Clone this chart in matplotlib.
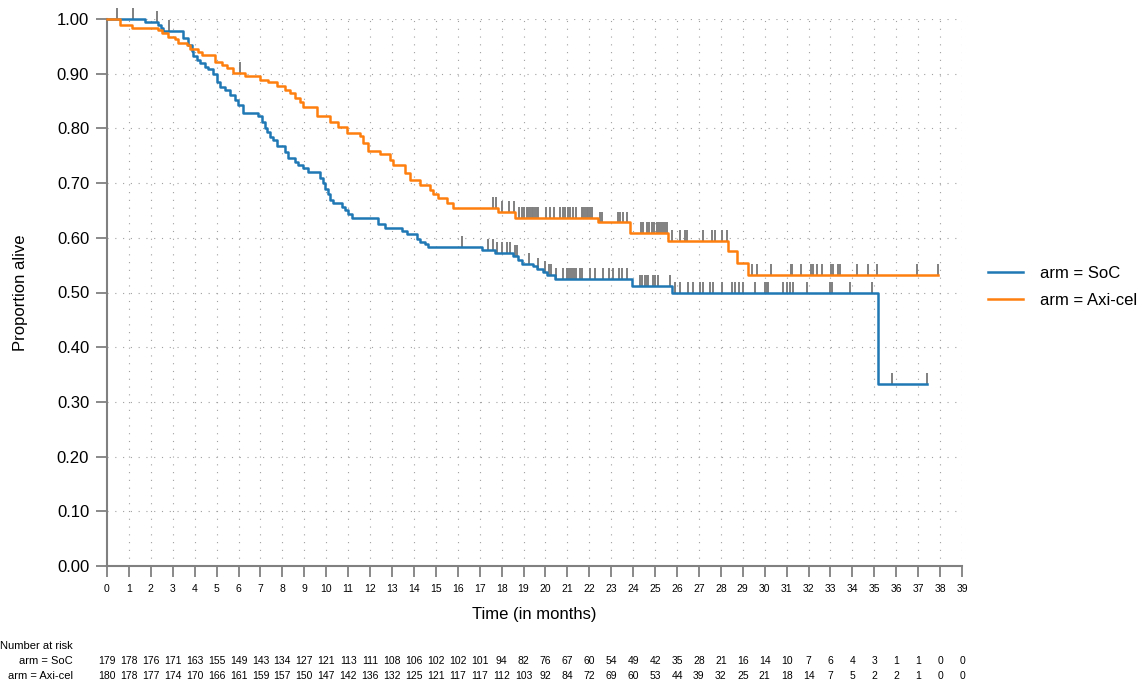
import numpy as np
import matplotlib
matplotlib.use("Agg")
import matplotlib.pyplot as plt

plt.rcParams['font.family'] = ['Liberation Sans', 'DejaVu Sans']

# Kaplan-Meier step points (time in months, survival after step)
soc_times = [0, 1.73, 2.34, 2.45, 2.55, 3.48, 3.71, 3.86, 3.94, 4.09, 4.24, 4.47, 4.62,
             4.85, 5.00, 5.16, 5.38, 5.61, 5.84, 5.99, 6.22, 6.90, 7.06, 7.21, 7.29, 7.44,
             7.59, 7.74, 8.12, 8.27, 8.58, 8.73, 8.96, 9.18, 9.72, 9.87, 9.95, 10.10, 10.17,
             10.32, 10.71, 10.86, 11.01, 11.16, 12.38, 12.68, 13.44, 13.67, 14.13, 14.28,
             14.51, 14.66, 17.09, 17.70, 18.54, 18.76, 18.92, 19.45, 19.60, 19.91, 20.06,
             20.44, 23.93, 25.76, 35.19]
soc_surv = [1.0, 0.994, 0.989, 0.983, 0.978, 0.966, 0.952, 0.941, 0.932, 0.925, 0.920, 0.913,
            0.908, 0.900, 0.885, 0.876, 0.870, 0.861, 0.852, 0.843, 0.829, 0.823, 0.812, 0.800,
            0.794, 0.785, 0.778, 0.767, 0.757, 0.745, 0.738, 0.733, 0.727, 0.721, 0.710, 0.700,
            0.690, 0.680, 0.670, 0.664, 0.657, 0.651, 0.643, 0.636, 0.626, 0.618, 0.613, 0.607,
            0.598, 0.592, 0.588, 0.583, 0.578, 0.572, 0.566, 0.559, 0.552, 0.548, 0.543, 0.538,
            0.532, 0.524, 0.512, 0.500, 0.333]
soc_end = 37.42

axi_times = [0, 0.59, 1.13, 2.34, 2.49, 2.80, 3.10, 3.25, 3.64, 3.79, 4.17, 4.32, 4.93, 5.23,
             5.46, 5.76, 6.30, 6.98, 7.36, 7.74, 8.12, 8.35, 8.58, 8.80, 8.96, 9.60, 10.17,
             10.55, 10.93, 11.54, 11.69, 11.92, 12.45, 12.91, 13.06, 13.59, 13.82, 14.28,
             14.74, 14.89, 15.11, 15.50, 15.80, 17.85, 18.61, 22.41, 23.86, 25.61, 28.34,
             28.73, 29.23]
axi_surv = [1.0, 0.989, 0.984, 0.980, 0.975, 0.968, 0.963, 0.957, 0.952, 0.945, 0.940, 0.934,
            0.922, 0.916, 0.910, 0.902, 0.895, 0.888, 0.884, 0.878, 0.871, 0.865, 0.855, 0.849,
            0.840, 0.822, 0.812, 0.803, 0.792, 0.786, 0.773, 0.759, 0.753, 0.742, 0.733, 0.718,
            0.705, 0.696, 0.687, 0.680, 0.672, 0.663, 0.654, 0.648, 0.637, 0.628, 0.608, 0.595,
            0.575, 0.554, 0.532]
axi_end = 37.90

# censoring times
soc_censor = [0.44, 1.17, 2.30, 2.83, 16.21, 17.40, 17.60, 17.78, 18.01, 18.24, 18.39, 18.61,
              18.72, 19.27, 19.68, 19.98, 20.16, 20.24, 20.48, 20.82, 20.97, 21.05, 21.12,
              21.20, 21.30, 21.40, 21.58, 21.66, 22.03, 22.26, 22.61, 22.92, 23.10, 23.37,
              23.48, 23.71, 24.32, 24.39, 24.54, 24.62, 24.69, 24.92, 25.00, 25.15, 25.68,
              25.91, 26.14, 26.52, 26.75, 27.05, 27.20, 27.51, 27.66, 28.04, 28.50, 28.65,
              28.85, 29.03, 29.56, 30.02, 30.10, 30.17, 30.85, 31.01, 31.16, 31.31, 31.92,
              32.98, 33.06, 33.90, 34.89, 35.80, 37.42]
axi_censor = [6.07, 17.62, 17.73, 18.01, 18.35, 18.57, 18.81, 18.92, 19.02, 19.15, 19.22,
              19.30, 19.38, 19.45, 19.53, 19.60, 19.65, 20.03, 20.21, 20.39, 20.67, 20.79,
              20.89, 21.05, 21.12, 21.27, 21.38, 21.66, 21.73, 21.81, 21.88, 21.96, 22.03,
              22.11, 22.49, 22.57, 23.30, 23.40, 23.53, 23.71, 24.35, 24.47, 24.62, 24.74,
              24.85, 24.95, 25.11, 25.20, 25.26, 25.35, 25.46, 25.53, 25.76, 26.14, 26.37,
              26.45, 27.20, 27.59, 27.74, 28.04, 28.30, 29.41, 29.64, 30.28, 31.19, 31.24,
              31.66, 32.10, 32.19, 32.38, 32.60, 33.03, 33.11, 33.36, 33.44, 34.20, 34.70,
              35.11, 36.97, 37.90]

risk_times = list(range(40))
soc_risk = [179, 178, 176, 171, 163, 155, 149, 143, 134, 127, 121, 113, 111, 108, 106, 102,
            102, 101, 94, 82, 76, 67, 60, 54, 49, 42, 35, 28, 21, 16, 14, 10, 7, 6, 4, 3,
            1, 1, 0, 0]
axi_risk = [180, 178, 177, 174, 170, 166, 161, 159, 157, 150, 147, 142, 136, 132, 125, 121,
            117, 117, 112, 103, 92, 84, 72, 69, 60, 53, 44, 39, 32, 25, 21, 18, 14, 7, 5, 2,
            2, 1, 0, 0]

arms = ['arm = SoC', 'arm = Axi-cel']
colors = ['#1f77b4', '#ff7f0e']

W, H = 1144, 684
fig = plt.figure(figsize=(W / 100, H / 100), dpi=100)
ax = fig.add_axes([107 / W, 1 - 566 / H, (962 - 107) / W, (566 - 19) / H])

grey = '#808080'

handles = []
for times, surv, end, cens, col in [(soc_times, soc_surv, soc_end, soc_censor, colors[0]),
                                     (axi_times, axi_surv, axi_end, axi_censor, colors[1])]:
    t = np.array(times + [end])
    s = np.array(surv + [surv[-1]])
    # censor ticks sit on the curve and point upwards
    c = np.array(cens)
    idx = np.searchsorted(np.array(times), c, side='right') - 1
    cs = np.array(surv)[idx]
    ax.vlines(c, cs, cs + 0.02, color=grey, lw=1.4, zorder=2, clip_on=False)
    h, = ax.step(t, s, where='post', color=col, lw=1.8, zorder=3, clip_on=False)
    handles.append(h)

ax.set_xlim(0, 39)
ax.set_ylim(0, 1.0)
ax.set_xticks(range(40))
ax.set_yticks(np.arange(0, 1.01, 0.1))
ax.set_yticklabels(['%.2f' % v for v in np.arange(0, 1.01, 0.1)])
ax.tick_params(axis='x', labelsize=7.5, length=8, width=1.3, color=grey, pad=5)
ax.tick_params(axis='y', labelsize=12, length=8, width=1.3, color=grey, pad=4.8)

for x in range(1, 40):
    ax.axvline(x, color='#a0a0a0', lw=0.8, ls=(0, (1, 6)), zorder=1)
for y in np.arange(0.1, 1.01, 0.1):
    ax.axhline(y, color='#a0a0a0', lw=0.8, ls=(0, (1, 6)), zorder=1)

for side in ['top', 'right']:
    ax.spines[side].set_visible(False)
for side in ['left', 'bottom']:
    ax.spines[side].set_color(grey)
    ax.spines[side].set_linewidth(1.5)

ax.set_xlabel('Time (in months)', fontsize=12, labelpad=9)
ax.set_ylabel('Proportion alive', fontsize=12, labelpad=21)

ax.legend(handles, arms, loc='center left', bbox_to_anchor=(1.013, 0.51), frameon=False,
          fontsize=12, handlelength=2.1, handletextpad=1.0, labelspacing=0.75)

# number at risk table
def fx(px):
    return px / W

def fy(py):
    return 1 - py / H

fig.text(fx(73), fy(646), 'Number at risk', fontsize=8, ha='right', va='center')
for row_y, name, vals in [(661, arms[0], soc_risk), (676, arms[1], axi_risk)]:
    fig.text(fx(73), fy(row_y), name, fontsize=8, ha='right', va='center')
    for tm, v in zip(risk_times, vals):
        xpx = 107 + tm * (962 - 107) / 39
        fig.text(fx(xpx), fy(row_y), str(v), fontsize=7.5, ha='center', va='center')

fig.savefig('out.png', dpi=100)
